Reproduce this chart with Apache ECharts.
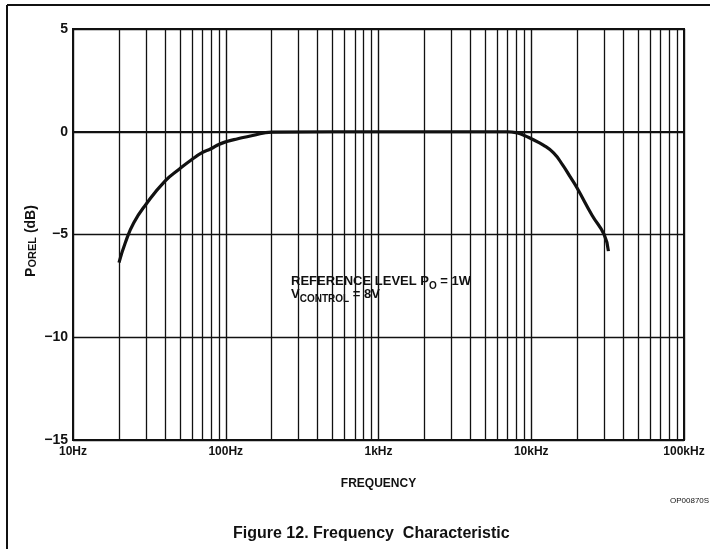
<!DOCTYPE html>
<html>
<head>
<meta charset="utf-8">
<script src="https://cdn.jsdelivr.net/npm/echarts@6/dist/echarts.min.js"></script>
<style>
html,body{margin:0;padding:0;background:#fff;}
#chart{width:710px;height:549px;}
</style>
</head>
<body>
<div id="chart"></div>
<script>
// ---- data ----
var freqHz = [20, 22, 25, 30, 40, 50, 60, 70, 80, 90, 100, 120, 150, 200, 500, 1000, 2000, 5000, 7000, 8000, 9000, 10000, 12000, 14000, 16000, 18000, 20000, 25000, 30000, 32000];
var porelDb = [-6.37, -5.4, -4.43, -3.54, -2.40, -1.80, -1.35, -1.02, -0.83, -0.62, -0.49, -0.34, -0.18, -0.02, 0, 0, 0, 0, 0, -0.05, -0.18, -0.34, -0.65, -1.03, -1.6, -2.2, -2.75, -4.06, -5.0, -5.81];
var xTickValues = [10, 100, 1000, 10000, 100000];
var xTickLabels = ['10Hz', '100Hz', '1kHz', '10kHz', '100kHz'];
var yTickValues = [-15, -10, -5, 0, 5];
var yTickLabels = ['−15', '−10', '−5', '0', '5'];
var minorGridFreqs = [];
[10, 100, 1000, 10000].forEach(function (d) {
  for (var k = 2; k <= 9; k++) minorGridFreqs.push(d * k);
});

var FONT = '"Liberation Sans", Arial, Helvetica, sans-serif';
var chart = echarts.init(document.getElementById('chart'), null, {renderer: 'canvas'});

var option = {
  animation: false,
  backgroundColor: '#fff',
  grid: {
    left: 73, right: 26, top: 29, bottom: 109,
    show: true, borderColor: '#111', borderWidth: 2
  },
  xAxis: {
    type: 'log', logBase: 10, min: 10, max: 100000,
    name: 'FREQUENCY', nameLocation: 'middle', nameGap: 38,
    nameTextStyle: {fontFamily: FONT, fontWeight: 'bold', fontSize: 12, color: '#111'},
    axisLine: {show: true, lineStyle: {color: '#111', width: 2}},
    axisTick: {show: false},
    axisLabel: {
      fontFamily: FONT, fontWeight: 'bold', fontSize: 12, color: '#111', margin: 6,
      formatter: function (v) {
        var i = xTickValues.indexOf(Math.round(v));
        return i >= 0 ? xTickLabels[i] : '';
      }
    },
    splitLine: {show: true, lineStyle: {color: '#111', width: 1.4}}
  },
  yAxis: {
    type: 'value', min: -15, max: 5, interval: 5,
    axisLine: {show: true, lineStyle: {color: '#111', width: 2}},
    axisTick: {show: false},
    axisLabel: {
      fontFamily: FONT, fontWeight: 'bold', fontSize: 14, color: '#111', margin: 5,
      formatter: function (v) {
        var i = yTickValues.indexOf(v);
        return i >= 0 ? yTickLabels[i] : '';
      }
    },
    splitLine: {show: true, lineStyle: {color: '#111', width: 1.4}}
  },
  series: [{
    type: 'line',
    data: freqHz.map(function (f, i) { return [f, porelDb[i]]; }),
    smooth: 0.5,
    showSymbol: false,
    lineStyle: {color: '#111', width: 3.2},
    markLine: {
      silent: true, symbol: 'none', animation: false,
      label: {show: false},
      lineStyle: {color: '#111', width: 1.3, type: 'solid'},
      data: minorGridFreqs.map(function (f) { return {xAxis: f}; })
    },
    z: 5
  }],
  graphic: [
    {type: 'line', shape: {x1: 7, y1: 5, x2: 710, y2: 5}, style: {stroke: '#111', lineWidth: 2}},
    {type: 'line', shape: {x1: 7, y1: 5, x2: 7, y2: 549}, style: {stroke: '#111', lineWidth: 2}},
    {
      type: 'text', x: 31, y: 241, rotation: Math.PI / 2,
      style: {
        text: '{p|P}{s|OREL}{p| (dB)}',
        align: 'center', verticalAlign: 'middle',
        fill: '#111',
        rich: {
          p: {fontFamily: FONT, fontWeight: 'bold', fontSize: 14, fill: '#111', verticalAlign: 'bottom'},
          s: {fontFamily: FONT, fontWeight: 'bold', fontSize: 11, fill: '#111', verticalAlign: 'bottom'}
        }
      }
    },
    {
      type: 'text', left: 291, top: 275, z: 10,
      style: {
        text: '{b|REFERENCE LEVEL P}{sub|O}{b| = 1W}\n{b|V}{sub|CONTROL}{b| = 8V}',
        fill: '#111',
        rich: {
          b: {fontFamily: FONT, fontWeight: 'bold', fontSize: 13, fill: '#111', lineHeight: 13, verticalAlign: 'bottom'},
          sub: {fontFamily: FONT, fontWeight: 'bold', fontSize: 10, fill: '#111', lineHeight: 13, verticalAlign: 'bottom', padding: [0, 0, -3, 0]}
        }
      }
    },
    {
      type: 'text', left: 670, top: 497,
      style: {text: 'OP00870S', fontFamily: FONT, fontSize: 8, fill: '#111'}
    },
    {
      type: 'text', left: 233, top: 526,
      style: {text: 'Figure 12. Frequency  Characteristic', fontFamily: FONT, fontWeight: 'bold', fontSize: 16, fill: '#111'}
    }
  ]
};
chart.setOption(option);
</script>
</body>
</html>
